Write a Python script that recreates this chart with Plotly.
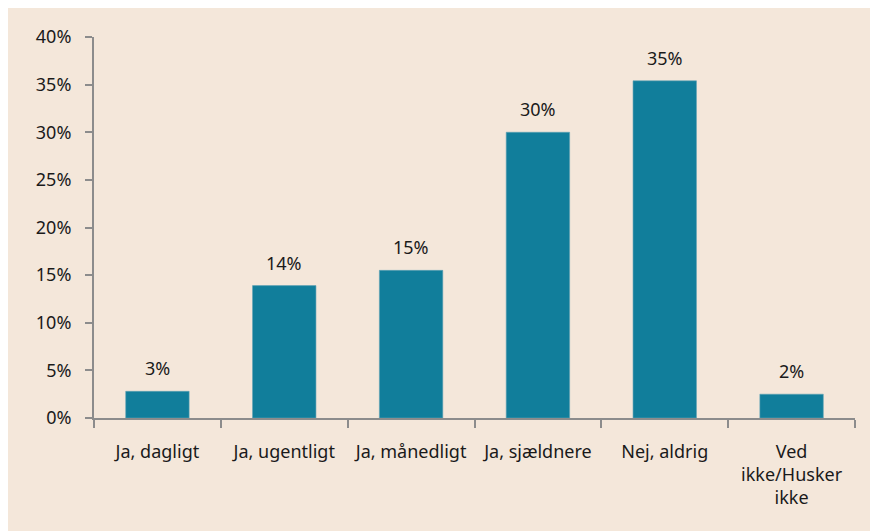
import plotly.graph_objects as go

categories = ["Ja, dagligt", "Ja, ugentligt", "Ja, månedligt", "Ja, sjældnere", "Nej, aldrig", "Ved<br>ikke/Husker<br>ikke"]
values = [0.028, 0.139, 0.155, 0.300, 0.354, 0.025]
labels = ["3%", "14%", "15%", "30%", "35%", "2%"]

FONT = "Noto Sans"
TXT = "#1a1a1a"
AX = "#8c8c8c"
FS = 18

fig = go.Figure()
fig.add_trace(go.Bar(
    x=categories, y=values,
    marker=dict(color="#117E9B", line=dict(color="#5FA3B5", width=0.6)),
    hoverinfo="skip",
))
for c, v, t in zip(categories, values, labels):
    fig.add_annotation(x=c, y=v, text=t, showarrow=False, yanchor="bottom",
                       yshift=9, font=dict(family=FONT, size=FS, color=TXT))

fig.update_layout(
    width=878, height=531,
    margin=dict(l=86, r=31, t=29, b=121),
    paper_bgcolor="#F4E7DA", plot_bgcolor="rgba(0,0,0,0)",
    bargap=0.5, showlegend=False,
    font=dict(family=FONT, size=FS, color=TXT),
    xaxis=dict(showline=True, linecolor=AX, linewidth=2, ticks="outside",
               tickson="boundaries", ticklen=8, tickwidth=2, tickcolor=AX,
               ticklabelstandoff=16, automargin=False, tickangle=0,
               showgrid=False, tickfont=dict(family=FONT, size=FS, color=TXT)),
    yaxis=dict(range=[0, 0.4], dtick=0.05, tickformat=".0%", showline=True,
               linecolor=AX, linewidth=2, ticks="outside", ticklen=7, tickwidth=2,
               tickcolor=AX, showgrid=False, zeroline=False, automargin=False,
               ticklabelstandoff=10,
               tickfont=dict(family=FONT, size=FS, color=TXT)),
)

fig.write_html("out.html")
